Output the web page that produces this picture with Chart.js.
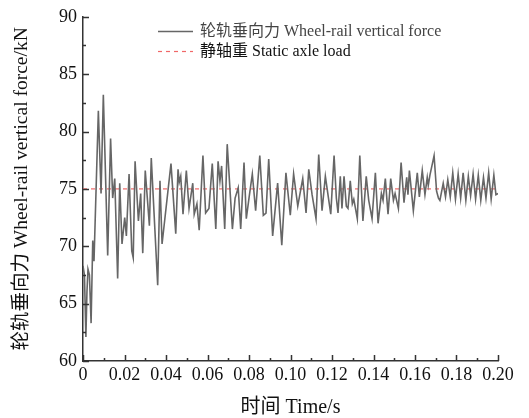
<!DOCTYPE html>
<html>
<head>
<meta charset="utf-8">
<script src="https://cdn.jsdelivr.net/npm/chart.js@4/dist/chart.umd.min.js"></script>
<style>
  html, body { margin: 0; padding: 0; background: #fff; }
  canvas { display: block; }
</style>
</head>
<body>
<canvas id="force-chart" width="529" height="418"></canvas>
<script>
// time (s) and wheel-rail vertical force (kN)
var times = [
    0.0000, 0.0007, 0.0014, 0.0019, 0.0024, 0.0031, 0.0039, 0.0047, 0.0053, 0.0074,
    0.0087, 0.0098, 0.0119, 0.0133, 0.0143, 0.0153, 0.0167, 0.0177, 0.0188, 0.0201,
    0.0209, 0.0222, 0.0235, 0.0242, 0.0251, 0.0267, 0.0278, 0.0288, 0.0300, 0.0320,
    0.0329, 0.0360, 0.0371, 0.0381, 0.0424, 0.0447, 0.0458, 0.0464, 0.0471, 0.0482,
    0.0498, 0.0511, 0.0529, 0.0536, 0.0549, 0.0560, 0.0578, 0.0591, 0.0607, 0.0623,
    0.0640, 0.0651, 0.0660, 0.0668, 0.0683, 0.0695, 0.0720, 0.0733, 0.0748, 0.0760,
    0.0776, 0.0787, 0.0800, 0.0816, 0.0832, 0.0852, 0.0869, 0.0882, 0.0895, 0.0914,
    0.0938, 0.0958, 0.0978, 0.0999, 0.1015, 0.1035, 0.1059, 0.1075, 0.1088, 0.1104,
    0.1123, 0.1136, 0.1152, 0.1168, 0.1194, 0.1210, 0.1221, 0.1229, 0.1240, 0.1248,
    0.1258, 0.1269, 0.1277, 0.1288, 0.1298, 0.1305, 0.1322, 0.1334, 0.1349, 0.1365,
    0.1377, 0.1393, 0.1409, 0.1422, 0.1438, 0.1446, 0.1457, 0.1470, 0.1483, 0.1496,
    0.1504, 0.1520, 0.1533, 0.1547, 0.1560, 0.1566, 0.1573, 0.1592, 0.1611, 0.1621,
    0.1635, 0.1648, 0.1659, 0.1664, 0.1672, 0.1692, 0.1704, 0.1713, 0.1720, 0.1736,
    0.1747, 0.1758, 0.1770, 0.1782, 0.1795, 0.1808, 0.1820, 0.1832, 0.1845, 0.1857,
    0.1868, 0.1880, 0.1892, 0.1905, 0.1917, 0.1930, 0.1942, 0.1955, 0.1967, 0.1980,
    0.1990, 0.2000
];
var force = [
    68.3, 67.5, 62.1, 66.0, 68.0, 67.5, 63.3, 70.5, 68.7, 81.8,
    74.6, 83.2, 69.2, 79.4, 74.2, 75.9, 67.2, 75.5, 70.2, 72.5,
    70.9, 76.3, 69.6, 69.0, 77.4, 72.2, 74.6, 69.4, 76.6, 71.8,
    77.7, 66.6, 75.7, 70.2, 77.2, 71.1, 76.7, 75.6, 76.1, 72.8,
    76.6, 73.3, 75.5, 72.8, 73.7, 71.4, 77.9, 72.9, 73.3, 77.2,
    71.5, 77.4, 75.7, 77.0, 71.5, 78.9, 71.5, 74.2, 75.1, 71.5,
    77.3, 72.4, 74.2, 76.3, 73.1, 77.9, 72.7, 72.9, 77.6, 70.9,
    75.5, 70.1, 76.4, 72.7, 76.3, 73.5, 75.9, 72.9, 76.7, 74.5,
    72.4, 78.0, 73.1, 76.1, 72.8, 77.9, 74.2, 72.9, 76.1, 73.3,
    76.1, 73.5, 73.3, 75.7, 73.7, 74.1, 72.4, 77.9, 72.2, 76.1,
    74.0, 72.4, 76.4, 72.0, 74.6, 74.0, 75.9, 72.8, 75.9, 74.0,
    74.6, 73.3, 77.3, 73.8, 76.0, 74.5, 76.6, 73.1, 76.4, 74.3,
    76.6, 74.5, 76.0, 75.3, 76.2, 77.9, 74.8, 74.2, 74.0, 75.5,
    74.3, 75.8, 74.3, 76.4, 74.1, 76.3, 74.2, 76.4, 74.0, 76.1,
    74.4, 76.3, 74.1, 76.2, 74.0, 76.0, 74.2, 76.4, 74.1, 76.2,
    74.5, 74.6
];
var staticLoad = 75;
var xTicks = [0, 0.02, 0.04, 0.06, 0.08, 0.10, 0.12, 0.14, 0.16, 0.18, 0.20];
var yTicks = [60, 65, 70, 75, 80, 85, 90];

var legendItems = [
    { text: '轮轨垂向力 Wheel-rail vertical force', color: '#666666', dash: [], textColor: '#444444' },
    { text: '静轴重 Static axle load', color: '#f06868', dash: [4, 4], textColor: '#111111' }
];

var FONT = '"Times New Roman", "Liberation Serif", "Noto Sans CJK SC", serif';
Chart.defaults.font.family = FONT;
Chart.defaults.font.size = 18;
Chart.defaults.color = '#111';

var forcePoints = times.map(function (t, i) {
    return { x: t, y: force[i] };
});
var staticPoints = [
    { x: xTicks[0], y: staticLoad },
    { x: xTicks[xTicks.length - 1], y: staticLoad }
];

// inward tick marks, long on labelled values and short in between
var innerTicks = {
    id: 'innerTicks',
    afterDraw: function (chart) {
        var ctx = chart.ctx,
            xs = chart.scales.x,
            ys = chart.scales.y,
            area = chart.chartArea;
        ctx.save();
        ctx.strokeStyle = '#333';
        ctx.lineWidth = 1.5;
        ctx.beginPath();
        xs.ticks.forEach(function (t) {
            var px = Math.round(xs.getPixelForValue(t.value)) + 0.5;
            var len = Math.round(t.value * 100) % 2 ? 3 : 6;
            ctx.moveTo(px, area.bottom);
            ctx.lineTo(px, area.bottom - len);
        });
        ys.ticks.forEach(function (t) {
            var py = Math.round(ys.getPixelForValue(t.value)) + 0.5;
            var len = t.value % 5 ? 3 : 6;
            ctx.moveTo(area.left, py);
            ctx.lineTo(area.left + len, py);
        });
        ctx.stroke();
        ctx.restore();
    }
};

var legendBox = {
    id: 'legendBox',
    afterDraw: function (chart) {
        var ctx = chart.ctx;
        ctx.save();
        ctx.font = '16px ' + FONT;
        ctx.textBaseline = 'middle';
        legendItems.forEach(function (item, i) {
            var y = 31 + i * 20;
            ctx.strokeStyle = item.color;
            ctx.lineWidth = i === 0 ? 1.5 : 1.2;
            ctx.setLineDash(item.dash);
            ctx.beginPath();
            ctx.moveTo(158, y + 0.5);
            ctx.lineTo(193, y + 0.5);
            ctx.stroke();
            ctx.setLineDash([]);
            ctx.fillStyle = item.textColor;
            ctx.fillText(item.text, 200, y + 1);
        });
        ctx.restore();
    }
};

new Chart('force-chart', {
    type: 'line',
    data: {
        datasets: [{
            label: legendItems[0].text,
            data: forcePoints,
            borderColor: '#666666',
            borderWidth: 1.6,
            pointRadius: 0,
            tension: 0,
            fill: false
        }, {
            label: legendItems[1].text,
            data: staticPoints,
            borderColor: '#f06868',
            borderWidth: 1.2,
            borderDash: [4, 4],
            pointRadius: 0,
            fill: false
        }]
    },
    options: {
        responsive: false,
        animation: false,
        devicePixelRatio: 1,
        layout: {
            padding: { left: 0, top: 15, right: 31, bottom: 0 }
        },
        plugins: {
            legend: { display: false },
            tooltip: { enabled: false }
        },
        scales: {
            x: {
                type: 'linear',
                min: xTicks[0],
                max: xTicks[xTicks.length - 1],
                grid: { display: false, drawTicks: false },
                border: { display: true, color: '#333', width: 1.5 },
                ticks: {
                    stepSize: 0.01,
                    autoSkip: false,
                    maxRotation: 0,
                    padding: 3,
                    callback: function (v) {
                        var k = Math.round(v * 100);
                        if (k % 2) return '';
                        return k === 0 ? '0' : (k / 100).toFixed(2);
                    }
                },
                title: {
                    display: true,
                    text: '时间 Time/s',
                    font: { size: 20, lineHeight: 1 },
                    padding: 0
                },
                afterFit: function (scale) { scale.height = 57; }
            },
            y: {
                min: yTicks[0],
                max: yTicks[yTicks.length - 1],
                grid: { display: false, drawTicks: false },
                border: { display: true, color: '#333', width: 1.5 },
                ticks: {
                    stepSize: 2.5,
                    autoSkip: false,
                    padding: 6,
                    callback: function (v) {
                        return v % 5 ? '' : String(v);
                    }
                },
                title: {
                    display: true,
                    text: '轮轨垂向力 Wheel-rail vertical force/kN',
                    font: { size: 19.5, lineHeight: 1.2 },
                    padding: { top: 10, bottom: 0 }
                },
                afterFit: function (scale) { scale.width = 83; }
            }
        }
    },
    plugins: [innerTicks, legendBox]
});
</script>
</body>
</html>
